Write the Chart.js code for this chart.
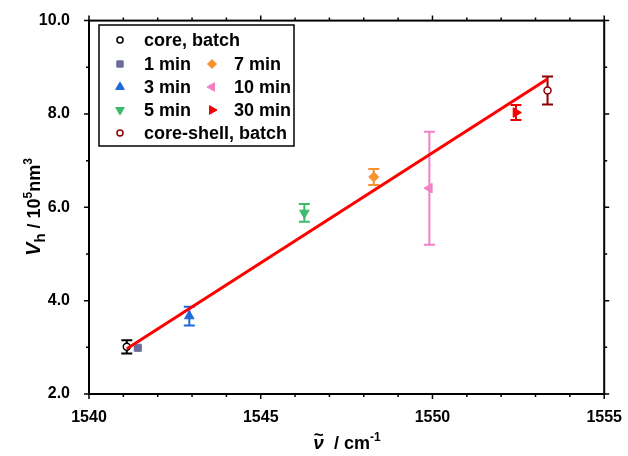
<!DOCTYPE html>
<html>
<head>
<meta charset="utf-8">
<script src="https://cdn.jsdelivr.net/npm/chart.js@4"></script>
<style>
  html, body { margin: 0; padding: 0; background: #fff; }
  #wrap { width: 628px; height: 456px; }
</style>
</head>
<body>
<div id="wrap"><canvas id="chart"></canvas></div>
<script>
// ------------------ Data --------------------

var seriesNames = ['core, batch', '1 min', '3 min', '5 min', '7 min', '10 min', '30 min', 'core-shell, batch'];
var wavenumber  = [1541.1, 1541.42, 1542.92, 1546.27, 1548.29, 1549.91, 1552.43, 1553.35];
var vh          = [3.01, 2.99, 3.67, 5.88, 6.65, 6.41, 8.03, 8.50];
var vhErr       = [0.14, 0, 0.20, 0.19, 0.17, 1.21, 0.16, 0.30];

// linear fit, end points
var fitX = [1541.1, 1553.35];
var fitY = [2.97, 8.75];

var xTicks = [1540, 1545, 1550, 1555];
var yTicks = [2.0, 4.0, 6.0, 8.0, 10.0];

// marker look per series
var colors   = ['#000000', '#6b6b9e', '#1f6ad8', '#3dbb6c', '#f7922f', '#f281c4', '#f00000', '#8b0000'];
var fills    = ['#ffffff', '#6b6b9e', '#1f6ad8', '#3dbb6c', '#f7922f', '#f281c4', '#f00000', '#ffffff'];
var styles   = ['circle', 'rect', 'triangle', 'triangle', 'rectRot', 'triangle', 'triangle', 'circle'];
var rotation = [0, 0, 0, 180, 0, 270, 90, 0];
var radius   = [3.5, 5, 5.5, 5.5, 5, 5.5, 5.5, 3.5];

var FONT = "'Liberation Sans', Arial, sans-serif";

// ----- datasets ------

var datasets = [{
  label: 'fit',
  data: fitX.map(function (x, i) { return {x: x, y: fitY[i]}; }),
  showLine: true,
  borderColor: '#ff0000',
  borderWidth: 3,
  pointRadius: 0,
  order: 0
}];

seriesNames.forEach(function (name, i) {
  datasets.push({
    label: name,
    data: [{x: wavenumber[i], y: vh[i]}],
    err: vhErr[i],
    pointStyle: styles[i],
    rotation: rotation[i],
    pointRadius: radius[i],
    borderWidth: (styles[i] == 'circle') ? 1.5 : 1,
    borderColor: colors[i],
    backgroundColor: fills[i],
    order: 1
  });
});

// ----- plugins ------

var errorBars = {
  id: 'errorBars',
  beforeDatasetsDraw: function (chart) {
    var ctx = chart.ctx, xs = chart.scales.x, ys = chart.scales.y;
    chart.data.datasets.forEach(function (ds) {
      if (!ds.err) return;
      var p = ds.data[0];
      var px = xs.getPixelForValue(p.x);
      var top = ys.getPixelForValue(p.y + ds.err);
      var bot = ys.getPixelForValue(p.y - ds.err);
      ctx.save();
      ctx.strokeStyle = ds.borderColor;
      ctx.lineWidth = 2;
      ctx.beginPath();
      ctx.moveTo(px, top); ctx.lineTo(px, bot);
      ctx.moveTo(px - 5.5, top); ctx.lineTo(px + 5.5, top);
      ctx.moveTo(px - 5.5, bot); ctx.lineTo(px + 5.5, bot);
      ctx.stroke();
      ctx.restore();
    });
  }
};

var frame = {
  id: 'frame',
  afterDraw: function (chart) {
    var ctx = chart.ctx, a = chart.chartArea, xs = chart.scales.x, ys = chart.scales.y;
    ctx.save();
    ctx.strokeStyle = '#000';
    ctx.lineWidth = 2;
    ctx.strokeRect(a.left, a.top, a.right - a.left, a.bottom - a.top);
    ctx.lineWidth = 1.5;
    ctx.beginPath();
    // ticks on all four sides, pointing out
    for (var v = 1540; v <= 1555; v++) {
      var len = (v % 5 == 0) ? 5 : 3;
      var px = xs.getPixelForValue(v);
      ctx.moveTo(px, a.bottom); ctx.lineTo(px, a.bottom + len);
      ctx.moveTo(px, a.top); ctx.lineTo(px, a.top - len);
    }
    for (var w = 2; w <= 10; w++) {
      var len2 = (w % 2 == 0) ? 5 : 3;
      var py = ys.getPixelForValue(w);
      ctx.moveTo(a.left, py); ctx.lineTo(a.left - len2, py);
      ctx.moveTo(a.right, py); ctx.lineTo(a.right + len2, py);
    }
    ctx.stroke();
    ctx.restore();
  }
};

// draws a run of [text, font, dy] pieces from x along the baseline
function drawRich(ctx, parts, x, y) {
  parts.forEach(function (p) {
    ctx.font = p[1];
    ctx.fillText(p[0], x, y + (p[2] || 0));
    x += ctx.measureText(p[0]).width;
  });
}
function richWidth(ctx, parts) {
  var w = 0;
  parts.forEach(function (p) { ctx.font = p[1]; w += ctx.measureText(p[0]).width; });
  return w;
}

var titles = {
  id: 'titles',
  afterDraw: function (chart) {
    var ctx = chart.ctx;
    ctx.save();
    ctx.fillStyle = '#000';
    ctx.textBaseline = 'alphabetic';
    ctx.textAlign = 'left';

    // y axis title
    var yParts = [
      ['V', 'italic bold 20px ' + FONT, 0],
      ['h', 'bold 15px ' + FONT, 5],
      [' / 10', 'bold 18px ' + FONT, 0],
      ['5', 'bold 12px ' + FONT, -8],
      ['nm', 'bold 18px ' + FONT, 0],
      ['3', 'bold 12px ' + FONT, -8]
    ];
    ctx.save();
    ctx.translate(40, 207);
    ctx.rotate(-Math.PI / 2);
    drawRich(ctx, yParts, -richWidth(ctx, yParts) / 2, 0);
    ctx.restore();

    // x axis title
    var xParts = [
      ['\u03bd', 'italic bold 19px ' + FONT, 0],
      ['  / cm', 'bold 18px ' + FONT, 0],
      ['-1', 'bold 12px ' + FONT, -8]
    ];
    var x0 = 347 - richWidth(ctx, xParts) / 2;
    drawRich(ctx, xParts, x0, 449);
    ctx.font = 'bold 17px ' + FONT;
    ctx.fillText('~', x0 + 0.5, 440);
    ctx.restore();
  }
};

// legend box with two columns in the middle rows
var legendBox = {
  id: 'legendBox',
  afterDraw: function (chart) {
    var ctx = chart.ctx;
    var rows = [
      [[0, 120, 144]],
      [[1, 120, 144], [4, 212, 234]],
      [[2, 120, 144], [5, 212, 234]],
      [[3, 120, 144], [6, 212, 234]],
      [[7, 120, 144]]
    ];
    var rowY = [40, 64, 87, 110, 133];
    ctx.save();
    ctx.fillStyle = '#fff';
    ctx.fillRect(99, 25, 195, 121);
    ctx.strokeStyle = '#000';
    ctx.lineWidth = 1.5;
    ctx.strokeRect(99, 25, 195, 121);
    rows.forEach(function (row, r) {
      row.forEach(function (item) {
        var i = item[0];
        ctx.fillStyle = fills[i];
        ctx.strokeStyle = colors[i];
        ctx.lineWidth = (styles[i] == 'circle') ? 1.5 : 1;
        Chart.helpers.drawPoint(ctx, {
          pointStyle: styles[i],
          rotation: rotation[i],
          radius: (styles[i] == 'circle') ? 3 : radius[i] - 0.5,
          borderWidth: ctx.lineWidth
        }, item[1], rowY[r]);
        ctx.fillStyle = '#000';
        ctx.font = 'bold 18px ' + FONT;
        ctx.textBaseline = 'middle';
        ctx.fillText(seriesNames[i], item[2], rowY[r] + 1);
      });
    });
    ctx.restore();
  }
};

// ----- INIT ------

var ctx = document.getElementById('chart').getContext('2d');

var chart = new Chart(ctx, {
  type: 'scatter',
  data: { datasets: datasets },
  options: {
    responsive: true,
    maintainAspectRatio: false,
    animation: false,
    layout: { padding: { top: 19, right: 20, left: 0, bottom: 0 } },
    plugins: {
      legend: { display: false },
      tooltip: { enabled: false }
    },
    scales: {
      x: {
        type: 'linear',
        min: 1540,
        max: 1555,
        afterFit: function (s) { s.height = 62; },
        afterBuildTicks: function (s) { s.ticks = xTicks.map(function (v) { return {value: v}; }); },
        ticks: {
          color: '#000',
          padding: 6,
          font: { family: FONT, size: 16, weight: 'bold' },
          callback: function (v) { return v; }
        },
        grid: { display: false },
        border: { display: false }
      },
      y: {
        min: 2,
        max: 10,
        afterFit: function (s) { s.width = 89; },
        afterBuildTicks: function (s) { s.ticks = yTicks.map(function (v) { return {value: v}; }); },
        ticks: {
          color: '#000',
          padding: 11,
          font: { family: FONT, size: 16, weight: 'bold' },
          callback: function (v) { return v.toFixed(1); }
        },
        grid: { display: false },
        border: { display: false }
      }
    }
  },
  plugins: [errorBars, frame, titles, legendBox]
});
</script>
</body>
</html>
